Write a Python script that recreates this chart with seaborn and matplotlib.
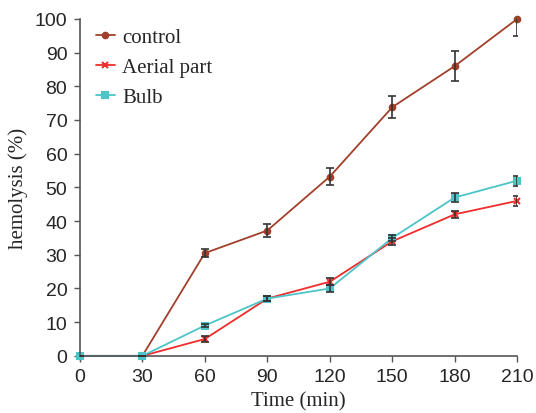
import pandas as pd
import matplotlib.pyplot as plt
import seaborn as sns

# data
time = [0, 30, 60, 90, 120, 150, 180, 210]
control = [0, 0, 30.5, 37.2, 53.2, 73.8, 86, 100]
control_err = [0, 0, 1.2, 2.0, 2.5, 3.2, 4.5, 5.0]
aerial = [0, 0, 5, 17, 22, 34, 42, 46]
aerial_err = [0, 0, 0.8, 0.8, 1.0, 1.0, 1.0, 1.5]
bulb = [0, 0, 9, 17, 20, 35, 47, 52]
bulb_err = [0, 0, 0.5, 0.8, 1.0, 1.0, 1.2, 1.5]

df = pd.DataFrame({
    'Time': time * 3,
    'hemolysis': control + aerial + bulb,
    'err': control_err + aerial_err + bulb_err,
    'group': ['control'] * 8 + ['Aerial part'] * 8 + ['Bulb'] * 8,
})

sns.set_style('white')
plt.rcParams['font.family'] = ['Liberation Serif', 'DejaVu Serif']

colors = {'control': '#a0402a', 'Aerial part': '#f02c2c', 'Bulb': '#4cc4c8'}
markers = {'control': 'o', 'Aerial part': 'x', 'Bulb': 's'}
sizes = {'control': 4, 'Aerial part': 4.5, 'Bulb': 5}

fig = plt.figure(figsize=(5.36, 4.14), dpi=100)
ax = fig.add_axes([0.149, 0.138, 0.816, 0.814])

for g in ['control', 'Aerial part', 'Bulb']:
    sub = df[df['group'] == g]
    sns.lineplot(data=sub, x='Time', y='hemolysis', color=colors[g], marker=markers[g],
                 markersize=sizes[g], markeredgecolor=colors[g], markeredgewidth=1.5,
                 linewidth=1.3, label=g, ax=ax, zorder=2, clip_on=False)
    ax.errorbar(sub['Time'], sub['hemolysis'], yerr=sub['err'], fmt='none',
                ecolor='#333333', elinewidth=1.2, capsize=3, capthick=1.2, zorder=3)

ax.set_xlim(0, 210)
ax.set_ylim(0, 100)
ax.set_xticks(time)
ax.set_yticks(range(0, 101, 10))
ax.tick_params(axis='both', labelsize=14, direction='out', length=4, width=1,
               color='#555555', left=True, bottom=True, pad=5)
for lab in ax.get_xticklabels() + ax.get_yticklabels():
    lab.set_family(['Liberation Sans', 'DejaVu Sans'])
for s in ['top', 'right']:
    ax.spines[s].set_visible(False)
for s in ['left', 'bottom']:
    ax.spines[s].set_color('#555555')
    ax.spines[s].set_linewidth(1.2)
ax.set_xlabel('Time (min)', fontsize=15, labelpad=4)
ax.set_ylabel('hemolysis (%)', fontsize=15, labelpad=5)
ax.legend(loc='upper left', frameon=False, fontsize=15, handlelength=0.9,
          handletextpad=0.35, labelspacing=0.5, bbox_to_anchor=(-0.006, 1.03))

plt.savefig('out.png', dpi=100)
